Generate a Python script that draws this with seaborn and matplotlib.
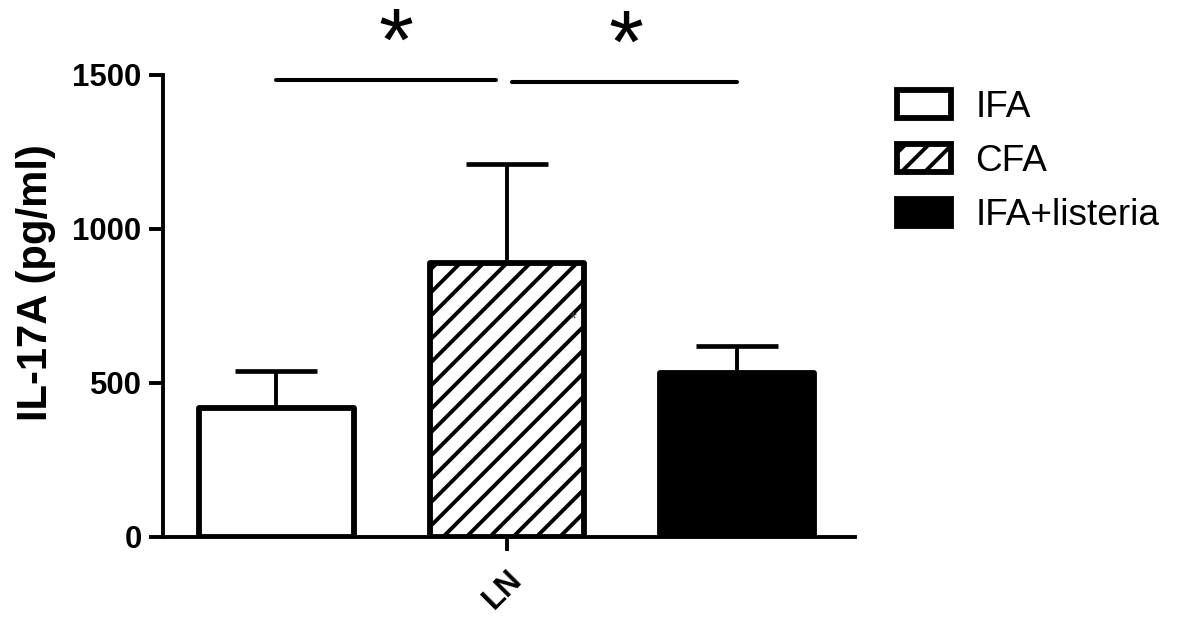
import matplotlib
matplotlib.use("Agg")
import matplotlib.pyplot as plt
import seaborn as sns
import pandas as pd

# ---- data ----
tissue = ["LN", "LN", "LN"]
groups = ["IFA", "CFA", "IFA+listeria"]
means = [420, 890, 533]
sem = [119, 321, 86]
y_ticks = [0, 500, 1000, 1500]
sig_pairs = [(0, 1), (1, 2)]
sig_level = [1484, 1477]
sig_text = ["*", "*"]

sns.set_theme(style="white")
plt.rcParams["font.family"] = ["Liberation Sans", "DejaVu Sans"]
plt.rcParams["hatch.linewidth"] = 2.0
for k in ["text.color", "axes.labelcolor", "xtick.color", "ytick.color", "axes.edgecolor"]:
    plt.rcParams[k] = "black"

DPI = 140
fig = plt.figure(figsize=(1181 / DPI, 619 / DPI), dpi=DPI)
ax = fig.add_axes([163 / 1181, 1 - 537 / 619, (855 - 163) / 1181, (537 - 75) / 619])

df = pd.DataFrame({"tissue": tissue, "group": groups, "value": means})
sns.barplot(data=df, x="tissue", y="value", hue="group", hue_order=groups,
            palette=["white", "white", "black"], edgecolor="black",
            linewidth=3.0, gap=0.33, errorbar=None, legend=False, ax=ax)

bars = sorted([p for p in ax.patches], key=lambda p: p.get_x())
bars[1].set_hatch("//")
for b in bars:
    b.set_joinstyle("round")

centers = [b.get_x() + b.get_width() / 2 for b in bars]
ax.errorbar(centers, means, yerr=[[0] * len(sem), sem], fmt="none",
            ecolor="black", elinewidth=2.0, capsize=21, capthick=2.4, zorder=1)
for b in bars:
    b.set_zorder(2)

# significance bars
for (i, j), lvl, t in zip(sig_pairs, sig_level, sig_text):
    x0 = centers[i] + (0.0 if i == 0 else 0.006)
    x1 = centers[j] - (0.012 if j == 1 else 0.0)
    ax.plot([x0, x1], [lvl, lvl], color="black", lw=2.1,
            solid_capstyle="round", clip_on=False)
    ax.text((centers[i] + centers[j]) / 2 + 0.005, lvl + 108, t,
            ha="center", va="center", fontsize=46, clip_on=False)

# stray small mark inside the hatched bar
ax.text(bars[1].get_x() + bars[1].get_width() * 0.93, 705, "*",
        ha="center", va="center", fontsize=9, color="#333333")

ax.set_xlim(-0.398, 0.403)
ax.set_ylim(0, 1500)
ax.set_yticks(y_ticks)
ax.set_yticklabels([str(v) for v in y_ticks], fontsize=16, fontweight="bold")
ax.set_xticks([0])
ax.set_xticklabels(["LN"], fontsize=16, fontweight="bold", rotation=45,
                   ha="right", rotation_mode="anchor")
ax.tick_params(axis="both", which="both", length=7, width=2.0, color="black",
               direction="out", left=True, bottom=True, pad=4)
ax.tick_params(axis="x", pad=7)
ax.set_xlabel("")
ax.set_ylabel("IL-17A (pg/ml)", fontsize=21.5, fontweight="bold")
ax.yaxis.set_label_coords(-0.155, 0.55)

for s in ["top", "right"]:
    ax.spines[s].set_visible(False)
for s in ["left", "bottom"]:
    ax.spines[s].set_linewidth(2.0)
    ax.spines[s].set_color("black")

leg = ax.legend(handles=bars, labels=groups, loc="upper left",
                bbox_to_anchor=(897 / 1181, 1 - 90 / 619),
                bbox_transform=fig.transFigure, frameon=False,
                fontsize=19, handlelength=1.47, handleheight=0.78,
                handletextpad=0.65, labelspacing=0.52, borderpad=0,
                borderaxespad=0)

fig.savefig("out.png", dpi=DPI, facecolor="white")
